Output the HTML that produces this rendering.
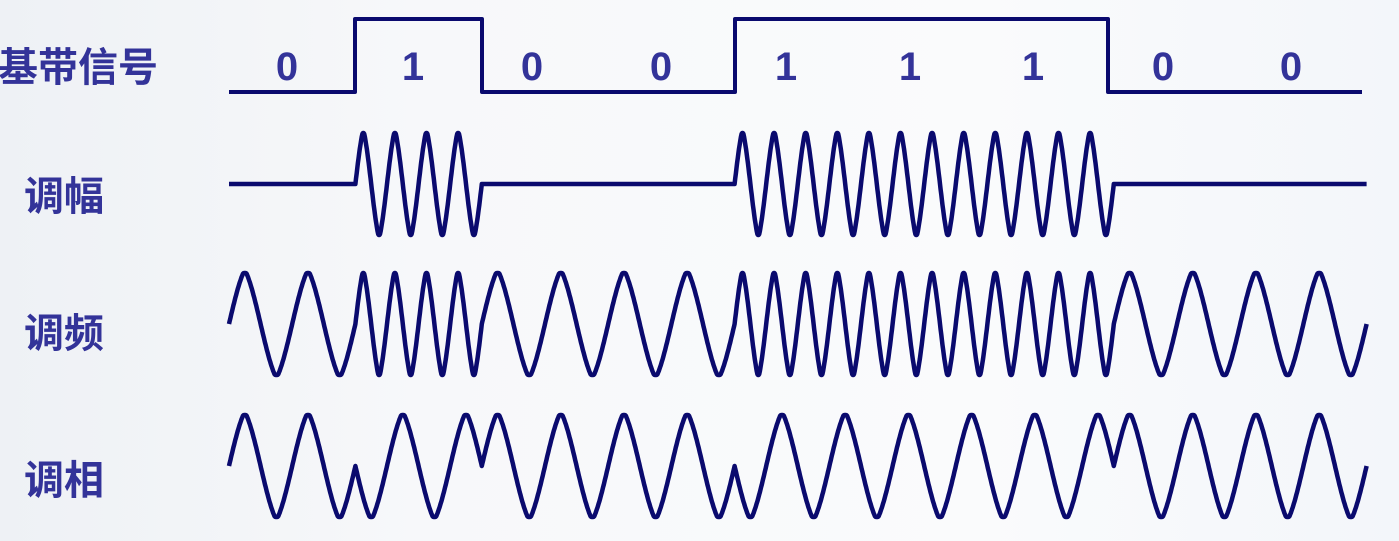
<!DOCTYPE html>
<html><head><meta charset="utf-8"><style>
html,body{margin:0;padding:0;}
body{width:1399px;height:541px;overflow:hidden;position:relative;background:linear-gradient(90deg,#eef1f5 0%,#f7f8fa 30%,#fafbfc 70%,#f3f6fa 100%);font-family:"Liberation Sans","Noto Sans CJK SC",sans-serif;}
.lab{position:absolute;color:#333399;font-weight:bold;font-size:40px;line-height:1;white-space:nowrap;}
.d{position:absolute;color:#333399;font-weight:bold;font-size:40px;line-height:1;top:47px;width:40px;text-align:center;}
svg{position:absolute;left:0;top:0;}
</style></head><body>
<div class="lab" style="left:-2px;top:48px;">基带信号</div>
<div class="lab" style="left:24px;top:177px;">调幅</div>
<div class="lab" style="left:24px;top:314px;">调频</div>
<div class="lab" style="left:24px;top:461px;">调相</div>
<div class="d" style="left:267px">0</div>
<div class="d" style="left:393px">1</div>
<div class="d" style="left:512px">0</div>
<div class="d" style="left:641px">0</div>
<div class="d" style="left:766px">1</div>
<div class="d" style="left:890px">1</div>
<div class="d" style="left:1013px">1</div>
<div class="d" style="left:1143px">0</div>
<div class="d" style="left:1271px">0</div>
<svg width="1399" height="541" viewBox="0 0 1399 541">
<path d="M229 92 H355 V19 H482 V92 H735 V19 H1108 V92 H1362" fill="none" stroke="#0a0a6e" stroke-width="4" stroke-linejoin="round"/>
<path id="am" fill="none" stroke="#0a0a6e" stroke-width="4.5" stroke-linejoin="round"/>
<path id="fm" fill="none" stroke="#0a0a6e" stroke-width="4.5" stroke-linejoin="round"/>
<path id="pm" fill="none" stroke="#0a0a6e" stroke-width="4.5" stroke-linejoin="round"/>
</svg>
<script>
var bits=[0,1,0,0,1,1,1,0,0],x0=229,w=126.4;
function sh(s){var tri=(2/Math.PI)*Math.asin(s);var v=1.12*tri;if(v>1)v=1-(v-1)*0.0;if(v<-1)v=-1;return 0.55*v+0.45*s;}
function gen(mode,mid,amp){
 var d="";
 for(var b=0;b<9;b++){
  var bit=bits[b];
  for(var i=0;i<=200;i++){
   var t=i/200,x=x0+(b+t)*w,y;
   if(mode=="am"){y=bit?mid-amp*sh(Math.sin(2*Math.PI*4*t)):mid;}
   else if(mode=="fm"){y=mid-amp*sh(Math.sin(2*Math.PI*(bit?4:2)*t));}
   else{y=mid-(bit?-1:1)*amp*sh(Math.sin(2*Math.PI*2*t));}
   d+=(d?"L":"M")+x.toFixed(1)+" "+y.toFixed(1);
  }
 }
 return d;
}
document.getElementById("am").setAttribute("d",gen("am",184,51));
document.getElementById("fm").setAttribute("d",gen("fm",324,51));
document.getElementById("pm").setAttribute("d",gen("pm",466,51));
</script>
</body></html>
